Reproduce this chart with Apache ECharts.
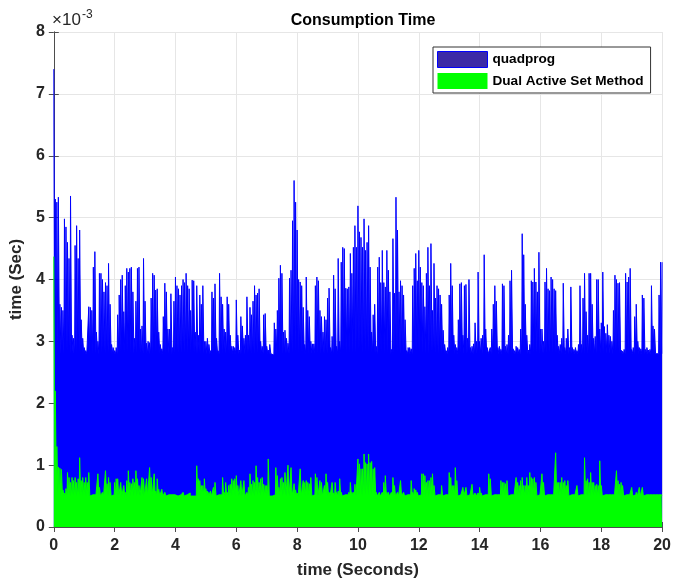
<!DOCTYPE html>
<html>
<head>
<meta charset="utf-8">
<title>Consumption Time</title>
<script src="https://cdn.jsdelivr.net/npm/echarts@6/dist/echarts.min.js"></script>
<style>
  html, body { margin: 0; padding: 0; background: #fff; }
  #chart { width: 674px; height: 584px; }
</style>
</head>
<body>
<div id="chart"></div>
<script>
// sample spacing of both series, seconds
const sampleStep = 0.05;
// part of each sample the peak value is held before dropping back to the floor
const peakHold = 0.035;

// level the dense body of each series drops back to between peaks (1e-3 s)
const quadprogFloorMs = 2.8;
const dualAsmFloorMs = 0.5;

// quadprog solve time, in units of 1e-3 s (one row per second of simulation)
const quadprogMs = [
  7.4, 5.3, 5.25, 5.33, 3.6, 3.55, 3.5, 4.98, 4.85, 4.6, 4.34, 5.35, 3.1, 3.05, 4.55, 4.87, 4.34, 4.8, 3.35, 3.05,
  2.9, 2.85, 2.8, 3.56, 3.55, 3.5, 4.2, 4.45, 3.15, 3.0, 4.1, 4.1, 4.0, 3.8, 3.95, 3.9, 4.26, 3.6, 2.95, 2.9,
  2.85, 2.9, 3.43, 3.75, 4.0, 4.07, 3.48, 3.9, 4.18, 4.12, 4.18, 4.2, 3.8, 3.05, 3.65, 4.18, 4.2, 3.2, 3.25, 4.34,
  3.65, 2.97, 3.0, 2.98, 3.7, 4.1, 4.07, 3.83, 3.85, 3.15, 2.95, 2.88, 3.4, 3.94, 3.8, 3.2, 3.2, 3.77, 2.9, 3.65,
  4.04, 3.9, 3.85, 3.75, 3.9, 4.0, 3.95, 4.1, 3.9, 3.85, 3.5, 3.99, 3.98, 3.15, 3.9, 3.1, 3.75, 3.6, 3.9, 3.0,
  3.0, 3.05, 2.95, 2.85, 3.8, 3.7, 3.93, 3.05, 2.85, 4.1, 3.72, 3.6, 3.2, 3.15, 3.72, 3.6, 3.1, 2.92, 2.92, 2.9,
  3.67, 3.1, 2.86, 3.4, 3.25, 3.05, 3.1, 3.72, 3.1, 3.55, 3.43, 3.65, 3.9, 3.75, 3.78, 3.85, 3.0, 2.92, 3.43, 3.45,
  2.92, 2.86, 2.95, 2.82, 2.78, 3.3, 3.2, 3.5, 4.02, 4.23, 4.1, 3.15, 3.18, 3.05, 2.97, 4.02, 4.15, 4.95, 5.6, 5.25,
  4.8, 4.0, 3.96, 3.9, 3.55, 2.95, 4.04, 3.5, 3.4, 3.0, 2.96, 2.96, 3.9, 4.04, 3.98, 3.5, 3.4, 3.15, 3.4, 3.35,
  3.7, 3.86, 2.9, 3.08, 4.07, 3.85, 2.92, 4.34, 3.0, 4.28, 4.52, 4.5, 3.86, 3.85, 3.88, 4.42, 4.1, 4.52, 4.87, 4.52,
  5.19, 4.77, 4.68, 4.52, 4.98, 4.47, 4.6, 4.87, 4.2, 3.15, 3.43, 3.6, 2.92, 4.2, 4.36, 3.95, 4.47, 3.95, 3.88, 4.47,
  4.15, 3.8, 2.87, 4.66, 3.78, 5.33, 4.8, 3.8, 3.98, 3.9, 3.75, 3.35, 2.85, 2.9, 2.9, 2.88, 3.9, 4.18, 4.42, 3.98,
  4.47, 4.2, 3.95, 3.9, 3.56, 4.1, 4.52, 3.9, 4.58, 3.5, 4.26, 3.7, 3.9, 3.85, 3.75, 3.6, 3.18, 2.95, 2.85, 2.9,
  3.75, 4.26, 3.9, 3.1, 2.95, 2.9, 3.35, 3.93, 3.95, 3.1, 3.9, 3.92, 3.05, 4.0, 2.9, 2.92, 2.96, 3.3, 3.0, 4.12,
  3.0, 3.05, 3.1, 4.4, 3.2, 2.9, 2.8, 2.9, 3.2, 3.6, 3.9, 3.65, 2.9, 2.92, 2.87, 3.93, 3.9, 2.92, 2.95, 3.1,
  3.98, 4.15, 2.88, 2.85, 2.92, 2.9, 2.87, 3.2, 4.74, 4.4, 3.6, 3.1, 2.86, 2.95, 3.98, 3.96, 4.18, 3.96, 3.8, 4.44,
  3.2, 3.2, 3.0, 3.96, 4.18, 3.85, 3.82, 4.04, 4.0, 3.85, 3.82, 3.1, 2.92, 2.95, 3.05, 3.94, 2.9, 3.05, 3.2, 2.9,
  3.88, 2.9, 2.87, 2.9, 2.85, 2.95, 3.9, 2.95, 3.7, 4.1, 3.48, 3.1, 4.1, 4.1, 3.6, 3.05, 3.08, 4.0, 4.0, 3.2,
  3.3, 4.12, 3.24, 3.13, 3.27, 3.1, 3.08, 3.0, 3.5, 4.07, 4.0, 3.94, 3.95, 2.86, 2.84, 2.87, 4.1, 3.96, 4.04, 4.18,
  2.87, 2.9, 3.4, 3.6, 3.0, 2.9, 2.88, 3.75, 3.7, 2.87, 2.9, 2.86, 2.87, 3.9, 3.25, 3.2, 2.8, 2.8, 3.75, 4.28,
  4.28
];

// dual active set method solve time, in units of 1e-3 s
const dualAsmMs = [
  4.37, 2.2, 1.3, 0.97, 0.95, 0.93, 0.6, 0.55, 0.62, 0.88, 0.8, 0.72, 0.8, 0.75, 0.8, 0.72, 0.78, 1.12, 0.75, 0.8,
  0.72, 0.8, 0.72, 0.88, 0.52, 0.52, 0.5, 0.52, 0.52, 0.86, 0.64, 0.52, 0.56, 0.52, 0.91, 0.7, 0.8, 0.72, 0.52, 0.52,
  0.72, 0.78, 0.78, 0.52, 0.72, 0.52, 0.67, 0.56, 0.75, 0.91, 0.72, 0.7, 0.78, 0.72, 0.91, 0.78, 0.67, 0.52, 0.8, 0.78,
  0.52, 0.78, 0.52, 0.96, 0.8, 0.52, 0.86, 0.58, 0.78, 0.61, 0.52, 0.61, 0.52, 0.56, 0.52, 0.52, 0.5, 0.52, 0.5, 0.52,
  0.5, 0.5, 0.5, 0.52, 0.5, 0.56, 0.5, 0.52, 0.5, 0.55, 0.5, 0.5, 0.52, 0.5, 0.99, 0.78, 0.75, 0.67, 0.67, 0.78,
  0.62, 0.58, 0.56, 0.58, 0.52, 0.64, 0.72, 0.52, 0.52, 0.52, 0.52, 0.8, 0.56, 0.72, 0.56, 0.67, 0.69, 0.78, 0.75, 0.78,
  0.83, 0.67, 0.52, 0.75, 0.52, 0.75, 0.52, 0.56, 0.64, 0.86, 0.69, 0.75, 0.72, 0.99, 0.8, 0.72, 0.78, 0.8, 0.69, 0.67,
  0.67, 1.1, 0.52, 0.5, 0.52, 0.52, 0.96, 0.83, 0.64, 0.78, 0.8, 0.72, 0.88, 0.52, 1.0, 0.52, 0.96, 0.52, 0.7, 0.6,
  0.55, 0.52, 0.94, 0.52, 0.75, 0.72, 0.75, 0.72, 0.7, 0.8, 0.52, 0.52, 0.86, 0.8, 0.52, 0.75, 0.72, 0.52, 0.67, 0.86,
  0.72, 0.56, 0.52, 0.72, 0.55, 0.72, 0.56, 0.58, 0.78, 0.56, 0.52, 0.52, 0.52, 0.52, 0.56, 0.72, 0.56, 0.56, 0.69, 0.52,
  1.1, 1.02, 0.94, 0.94, 1.18, 1.04, 1.02, 1.18, 1.04, 1.06, 0.94, 0.96, 0.56, 0.52, 0.56, 0.52, 0.56, 0.72, 0.83, 0.56,
  0.56, 0.52, 0.56, 0.8, 0.67, 0.52, 0.56, 0.52, 0.75, 0.52, 0.56, 0.52, 0.52, 0.52, 0.52, 0.75, 0.56, 0.62, 0.6, 0.56,
  0.52, 0.52, 0.86, 0.86, 0.83, 0.72, 0.75, 0.75, 0.8, 0.86, 0.67, 0.52, 0.52, 0.52, 0.52, 0.67, 0.52, 0.52, 0.52, 0.52,
  0.88, 0.8, 0.67, 0.67, 0.96, 0.75, 0.52, 0.52, 0.52, 0.64, 0.52, 0.64, 0.52, 0.52, 0.55, 0.69, 0.52, 0.55, 0.52, 0.55,
  0.64, 0.55, 0.52, 0.52, 0.55, 0.52, 0.86, 0.78, 0.52, 0.52, 0.52, 0.52, 0.52, 0.52, 0.75, 0.72, 0.72, 0.7, 0.75, 0.52,
  0.52, 0.52, 0.52, 0.52, 0.8, 0.72, 0.67, 0.75, 0.8, 0.67, 0.67, 0.8, 0.67, 0.88, 0.8, 0.78, 0.8, 0.72, 0.52, 0.52,
  0.52, 0.86, 0.72, 0.52, 0.52, 0.52, 0.52, 0.52, 0.52, 0.52, 1.2, 0.72, 0.72, 0.72, 0.8, 0.72, 0.75, 0.67, 0.75, 0.52,
  0.52, 0.52, 0.52, 0.52, 0.67, 0.52, 0.52, 0.52, 0.52, 1.12, 0.75, 0.78, 0.72, 0.88, 0.72, 0.72, 0.67, 0.69, 0.67, 1.07,
  0.67, 0.52, 0.52, 0.52, 0.52, 0.52, 0.52, 0.52, 0.52, 0.52, 0.91, 0.75, 0.69, 0.72, 0.67, 0.52, 0.52, 0.52, 0.52, 0.52,
  0.64, 0.52, 0.52, 0.56, 0.52, 0.64, 0.52, 0.64, 0.52, 0.52, 0.52, 0.52, 0.52, 0.52, 0.52, 0.52, 0.52, 0.52, 0.52, 0.52,
  0.52
];

const xTicks = { min: 0, max: 20, interval: 2 };
const yTicks = { min: 0, max: 8, interval: 1 };

const FONT = 'Arial, "Liberation Sans", Helvetica, sans-serif';
const INK = "#262626";

// each sample holds its peak for a moment, then falls back to the floor
// level until the next sample, like the solver-time comb in the original
function toComb(vals, floor) {
  const pts = [];
  vals.forEach((v, i) => {
    const t = +(i * sampleStep).toFixed(3);
    pts.push([t, v]);
    if (i < vals.length - 1) pts.push([+(t + peakHold).toFixed(3), Math.min(v, floor)]);
  });
  return pts;
}

const chart = echarts.init(document.getElementById("chart"), null, { renderer: "canvas" });

const axisLine = { show: true, lineStyle: { color: "#4d4d4d", width: 1 } };
const tick = { show: true, inside: true, length: 5, lineStyle: { color: "#4d4d4d" } };
const label = { color: INK, fontFamily: FONT, fontSize: 16, fontWeight: "bold" };

const option = {
  animation: false,
  backgroundColor: "#fff",
  title: {
    text: "Consumption Time",
    left: 358,
    top: 8,
    textAlign: "center",
    textStyle: { color: "#000", fontFamily: FONT, fontSize: 16, fontWeight: "bold" },
  },
  grid: { left: 51, right: 8, top: 32, bottom: 54, containLabel: false },
  legend: {
    orient: "vertical",
    left: 433,
    top: 47,
    icon: "rect",
    itemWidth: 50,
    itemHeight: 16,
    itemGap: 5,
    padding: [4, 7, 4, 4],
    backgroundColor: "#fff",
    borderColor: "#333",
    borderWidth: 1,
    borderRadius: 0,
    textStyle: { color: "#000", fontFamily: FONT, fontSize: 13.6, fontWeight: "bold" },
    data: [
      { name: "quadprog", itemStyle: { color: "#3c2aa6", borderColor: "#0000ff", borderWidth: 1 } },
      { name: "Dual Active Set Method", itemStyle: { color: "#00ff00", borderWidth: 0 } },
    ],
  },
  graphic: [
    { type: "text", left: 52, top: 12, style: { text: "×10", fill: INK, font: "17px " + FONT } },
    { type: "text", left: 82, top: 9, style: { text: "-3", fill: INK, font: "12px " + FONT } },
  ],
  xAxis: [
    {
      type: "value",
      position: "bottom",
      ...xTicks,
      name: "time (Seconds)",
      nameLocation: "middle",
      nameGap: 35,
      nameTextStyle: { color: INK, fontFamily: FONT, fontSize: 17, fontWeight: "bold" },
      axisLine,
      axisTick: tick,
      axisLabel: { ...label, margin: 11 },
      splitLine: { show: true, lineStyle: { color: "#e6e6e6", width: 1 } },
    },
    {
      type: "value",
      position: "top",
      ...xTicks,
      axisLine,
      axisTick: tick,
      axisLabel: { show: false },
      splitLine: { show: false },
    },
  ],
  yAxis: [
    {
      type: "value",
      position: "left",
      ...yTicks,
      name: "time (Sec)",
      nameLocation: "middle",
      nameGap: 24,
      nameTextStyle: { color: INK, fontFamily: FONT, fontSize: 17, fontWeight: "bold" },
      axisLine,
      axisTick: tick,
      axisLabel: { ...label, margin: 9 },
      splitLine: { show: true, lineStyle: { color: "#e6e6e6", width: 1 } },
    },
    {
      type: "value",
      position: "right",
      ...yTicks,
      axisLine,
      axisTick: tick,
      axisLabel: { show: false },
      splitLine: { show: false },
    },
  ],
  series: [
    {
      name: "quadprog",
      type: "line",
      step: "end",
      symbol: "none",
      data: toComb(quadprogMs, quadprogFloorMs),
      lineStyle: { color: "#0000ff", width: 1 },
      itemStyle: { color: "#0000ff" },
      areaStyle: { color: "#0000ff", opacity: 1 },
      z: 2,
    },
    {
      name: "Dual Active Set Method",
      type: "line",
      step: "end",
      symbol: "none",
      data: toComb(dualAsmMs, dualAsmFloorMs),
      lineStyle: { color: "#00ff00", width: 1 },
      itemStyle: { color: "#00ff00" },
      areaStyle: { color: "#00ff00", opacity: 1 },
      z: 3,
    },
  ],
};

chart.setOption(option);
</script>
</body>
</html>
